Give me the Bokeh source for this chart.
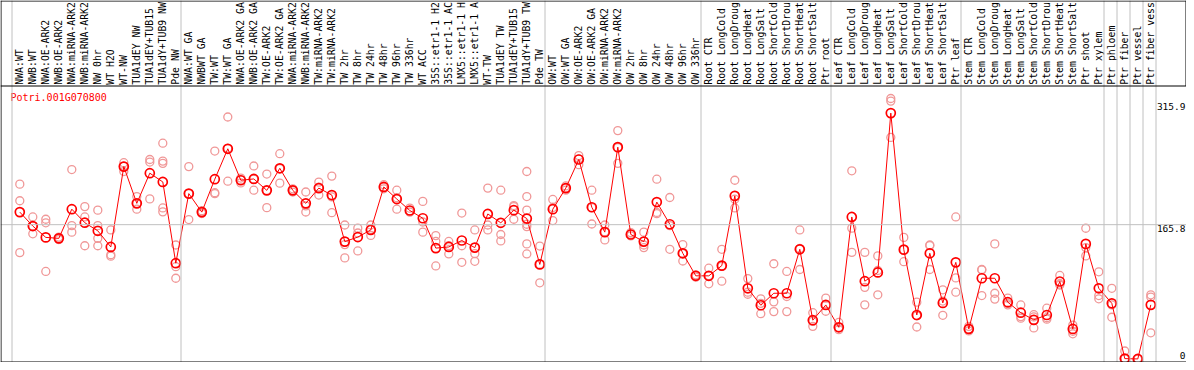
import math
from bokeh.plotting import figure
from bokeh.models import Range1d, Span
from bokeh.embed import file_html
from bokeh.resources import INLINE
from bokeh.core.properties import value

# ---------------- data ----------------
gene = "Potri.001G070800"

# column headers as they appear in the chart
labels_nw = ["NWA:WT", "NWB:WT", "NWA:OE-ARK2", "NWB:OE-ARK2", "NWA:miRNA-ARK2",
             "NWB:miRNA-ARK2", "NW 0hr", "WT H2O", "WT-NW", "TUA1dEY NW",
             "TUA1dEY+TUB15", "TUA1dY+TUB9 NW", "Pde NW"]
labels_tw = ["NWA:WT GA", "NWBWT GA", "TW:WT", "TW:WT GA", "NWA:OE-ARK2 GA",
             "NWB:OE-ARK2 GA", "TW:OE-ARK2", "TW:OE-ARK2 GA", "NWA:miRNA-ARK2",
             "NWB:miRNA-ARK2", "TW:miRNA-ARK2", "TW:miRNA-ARK2", "TW 2hr", "TW 8hr",
             "TW 24hr", "TW 48hr", "TW 96hr", "TW 336hr", "WT ACC", "35S::etr1-1 H2",
             "35S::etr1-1 AC", "LMX5::etr1-1 H", "LMX5::etr1-1 A", "WT-TW",
             "TUA1dEY TW", "TUA1dEY+TUB15", "TUA1dY+TUB9 TW", "Pde TW"]
labels_ow = ["OW:WT", "OW:WT GA", "OW:OE-ARK2", "OW:OE-ARK2 GA", "OW:miRNA-ARK2",
             "OW:miRNA-ARK2", "OW 2hr", "OW 8hr", "OW 24hr", "OW 48hr", "OW 96hr",
             "OW 336hr"]
labels_root = ["Root CTR", "Root LongCold", "Root LongDroug", "Root LongHeat",
               "Root LongSalt", "Root ShortCold", "Root ShortDrou", "Root ShortHeat",
               "Root ShortSalt", "Ptr root"]
labels_leaf = ["Leaf CTR", "Leaf LongCold", "Leaf LongDroug", "Leaf LongHeat",
               "Leaf LongSalt", "Leaf ShortCold", "Leaf ShortDrou", "Leaf ShortHeat",
               "Leaf ShortSalt", "Ptr leaf"]
labels_stem = ["Stem CTR", "Stem LongCold", "Stem LongDroug", "Stem LongHeat",
               "Stem LongSalt", "Stem ShortCold", "Stem ShortDrou", "Stem ShortHeat",
               "Stem ShortSalt", "Ptr shoot", "Ptr xylem"]
labels_phloem = ["Ptr phloem"]
labels_fiber = ["Ptr fiber"]
labels_vessel = ["Ptr vessel"]
labels_fv = ["Ptr fiber vess"]

groups = [labels_nw, labels_tw, labels_ow, labels_root, labels_leaf, labels_stem,
          labels_phloem, labels_fiber, labels_vessel, labels_fv]

means = [181.3, 164.1, 150.1, 148.9, 184.9, 168.2, 158.2, 138.3, 237.4, 192.1,
         229.3, 218.5, 118.3,
         204.1, 181.3, 221.9, 259.4, 220.6, 222.2, 208.1, 235.3, 208.1, 192.1,
         210.9, 202.3, 144.9, 150.5, 159.3, 212.3, 197.4, 183.3, 173.7, 136.9,
         138.3, 146.3, 137.5, 179.0, 168.1, 183.7, 173.3, 116.8,
         184.9, 210.9, 246.2, 187.3, 156.6, 261.4, 153.7, 144.9, 193.7, 166.3,
         130.5, 102.7,
         102.7, 115.3, 201.3, 87.3, 66.4, 81.2, 81.2, 135.4, 48.0, 66.8,
         39.2, 175.3, 96.1, 106.9, 303.4, 135.0, 54.4, 130.5, 69.3, 119.3,
         37.2, 99.7, 99.7, 70.2, 57.2, 48.4, 54.4, 95.7, 37.2, 142.1, 87.3,
         68.8, 0.6, 0.2, 66.9]

replicates = [
    [215.8, 195.3, 131.3], [175.3, 164.1, 154.5], [172.5, 168.1, 108.1],
    [150.5, 148.9, 147.5], [233.8, 164.6, 156.6], [188.1, 175.3, 139.8],
    [183.7, 164.6, 148.9, 139.8], [159.3, 128.7, 126.9], [242.2, 238.0, 231.4],
    [200.5, 192.0, 184.9], [246.2, 243.0, 197.6], [266.3, 244.2, 241.4, 186.4, 181.6],
    [140.7, 114.0, 99.7],
    [237.4, 204.0, 172.1], [183.0, 181.3, 179.5], [256.6, 205.2, 204.0],
    [298.6, 260.0, 219.4], [223.3, 221.0, 217.3], [238.2, 222.0, 208.3],
    [228.2, 208.0, 186.8], [253.3, 235.0, 217.0], [210.0, 208.1, 206.0],
    [206.1, 189.0, 181.4], [218.3, 212.0, 202.3], [225.7, 200.0, 180.6],
    [165.4, 141.2, 124.8], [161.5, 155.5, 133.4], [165.4, 160.0, 152.5],
    [215.1, 212.0, 210.0], [208.3, 199.0, 184.9], [186.2, 183.0, 181.3],
    [194.5, 169.1, 156.6], [152.3, 145.1, 114.9], [145.1, 140.0, 129.7],
    [180.1, 139.8, 119.4], [159.3, 130.1, 120.6], [210.9, 165.4, 159.3],
    [208.3, 153.7, 145.7], [189.4, 188.0, 172.5],
    [231.4, 200.5, 183.7, 166.3, 163.4, 142.1, 129.7], [139.4, 117.0, 94.1],
    [196.9, 187.0, 170.9], [213.6, 211.0, 208.3], [251.0, 247.0, 239.8],
    [208.3, 187.0, 166.6], [165.4, 157.0, 147.0], [281.8, 261.0, 241.4],
    [156.0, 154.0, 152.0], [156.6, 140.7, 137.5], [221.9, 180.9, 179.3],
    [199.3, 164.6, 135.4], [141.2, 130.0, 121.0], [104.0, 103.0, 101.0],
    [112.1, 103.0, 92.9], [135.4, 114.5, 96.1], [220.6, 197.2, 186.4],
    [99.3, 82.5, 80.0], [74.4, 68.8, 56.0], [117.6, 70.6, 58.6],
    [108.1, 77.2, 58.6], [159.3, 136.5, 110.5], [57.2, 46.5, 40.4],
    [75.2, 66.3, 59.0],
    [45.2, 39.0, 36.3], [232.2, 161.5, 131.6], [131.6, 88.5, 66.9],
    [127.3, 109.3, 79.3], [321.4, 318.2, 273.4], [150.1, 135.0, 120.1],
    [70.2, 53.4, 39.6], [140.7, 140.0, 110.5], [85.5, 71.6, 54.0],
    [175.3, 100.1, 82.5],
    [40.4, 37.0, 34.8], [110.5, 110.0, 78.4], [142.1, 81.2, 74.0],
    [75.2, 68.5, 66.9], [66.8, 52.4, 50.4], [54.8, 52.0, 38.4],
    [62.8, 51.0, 49.2], [103.2, 92.5, 91.3], [42.0, 34.3, 31.2],
    [161.4, 137.5, 127.3], [107.7, 78.4, 74.4],
    [87.3, 66.8, 51.6], [10.0, 0.5, 0.3], [0.4, 0.2, 0.1], [79.3, 76.5, 32.4],
]

tick_values = [315.9, 165.8, 0]
tick_labels = ["315.9", "165.8", "0"]
guide_value = 165.8

# ---------------- layout constants (pixels) ----------------
W, H = 1186, 362
PX = 0.8108        # pixels per expression unit
ZERO_Y = 358.6     # figure pixel row of value 0
COL_W = 13.0
COL0_X = 19.3      # figure pixel column of first sample
HEADER_Y = 85.5    # separator between header and plot


def vy(fy):
    return (ZERO_Y - fy) / PX


def ix(fx):
    return (fx - COL0_X) / COL_W


labels = [lab for g in groups for lab in g]
idx = list(range(len(labels)))
boundaries = []
pos = 0
for g in groups:
    boundaries.append(pos)
    pos += len(g)
boundaries.append(pos)

FONT = value("DejaVu Sans Mono")
GRAY = "#c0c0c0"

p = figure(width=W, height=H, x_range=Range1d(ix(0), ix(W)), y_range=Range1d(vy(H), vy(0)),
           output_backend="svg", toolbar_location=None, min_border=0,
           x_axis_location=None, y_axis_location=None)
p.grid.visible = False
p.outline_line_color = None
p.background_fill_color = "white"
p.border_fill_color = "white"

# group separators and guide line
for b in boundaries:
    p.add_layout(Span(location=b - 0.6, dimension="height", line_color=GRAY, line_width=1))
p.add_layout(Span(location=guide_value, dimension="width", line_color=GRAY, line_width=1))

# frame lines
p.add_layout(Span(location=vy(HEADER_Y), dimension="width", line_color="black", line_width=1))
p.add_layout(Span(location=vy(0.5), dimension="width", line_color="black", line_width=1))
p.add_layout(Span(location=vy(361.5), dimension="width", line_color="black", line_width=1))
p.add_layout(Span(location=ix(0.5), dimension="height", line_color="black", line_width=1))
p.segment(x0=[ix(1185.5)], y0=[vy(0)], x1=[ix(1185.5)], y1=[vy(HEADER_Y)],
          line_color="black", line_width=1)

# replicates
rep_x = [i for i, r in enumerate(replicates) for _ in r]
rep_y = [v for r in replicates for v in r]
p.scatter(rep_x, rep_y, marker="circle", size=8, fill_color=None,
          line_color="#f09898", line_width=1.3)

# mean line and points
p.line(idx, means, line_color="#ff0000", line_width=1)
p.scatter(idx, means, marker="circle", size=9, fill_color=None,
          line_color="#ff0000", line_width=1.7)

# column headers
p.text(x=[i - 0.04 for i in idx], y=[vy(84.2)] * len(idx), text=labels, angle=math.pi / 2,
       text_align="left", text_baseline="middle", text_font=FONT,
       text_font_size="9.8px", text_color="black")

# gene title
p.text(x=[ix(10)], y=[vy(91.5)], text=[gene], text_align="left", text_baseline="top",
       text_font=FONT, text_font_size="10px", text_color="#ff0000")

# value labels
p.text(x=[ix(1185)] * 2, y=tick_values[:2], text=tick_labels[:2], text_align="right",
       text_baseline="top", text_font=FONT, text_font_size="9.5px", text_color="black")
p.text(x=[ix(1185)], y=tick_values[2:], text=tick_labels[2:], text_align="right",
       text_baseline="bottom", text_font=FONT, text_font_size="9.5px", text_color="black")

open("out.html", "w").write(file_html(p, INLINE))
